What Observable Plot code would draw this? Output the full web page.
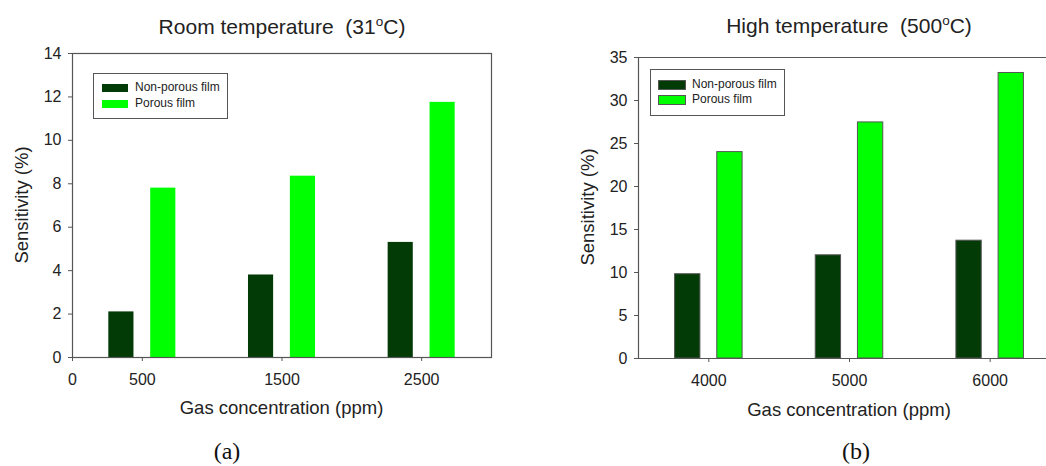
<!DOCTYPE html>
<html>
<head>
<meta charset="utf-8">
<script src="https://cdn.jsdelivr.net/npm/d3@7"></script>
<script src="https://cdn.jsdelivr.net/npm/@observablehq/plot@0.6"></script>
<style>
  html, body { margin: 0; padding: 0; background: #fff; overflow: hidden; }
  #root { position: relative; width: 1046px; height: 466px; overflow: hidden; font-family: "Liberation Sans", Arial, sans-serif; color: #222; }
  .abs { position: absolute; white-space: pre; line-height: 1; }
  .title { font-size: 21px; transform: translate(-50%, -50%); }
  .title sup { font-size: 13.5px; vertical-align: 0; position: relative; top: -8px; }
  .xlab { font-size: 18.5px; transform: translate(-50%, -50%); }
  .ylab { font-size: 18.5px; transform: translate(-50%, -50%) rotate(-90deg); }
  .cap { font-family: "Liberation Serif", "Times New Roman", serif; font-size: 24px; transform: translate(-50%, -50%); color: #111; }
  .legend { position: absolute; border: 1px solid #555; background: #fff; box-sizing: border-box; }
  .legrow { position: absolute; font-size: 12px; line-height: 1; white-space: nowrap; }
  .sw { position: absolute; box-sizing: border-box; }
</style>
</head>
<body>
<div id="root"></div>
<script>
// ---- data ----
const seriesNames = ["Non-porous film", "Porous film"];
const seriesColors = ["#023b06", "#00ff00"];

const concA = [500, 1500, 2500];
const nonPorousA = [2.1, 3.8, 5.3];
const porousA = [7.8, 8.35, 11.75];
const xTicksA = [0, 500, 1500, 2500];
const yTicksA = [0, 2, 4, 6, 8, 10, 12, 14];

const concB = [4000, 5000, 6000];
const nonPorousB = [9.8, 12.0, 13.7];
const porousB = [24.0, 27.45, 33.2];
const xTicksB = [4000, 5000, 6000];
const yTicksB = [0, 5, 10, 15, 20, 25, 30, 35];

// bar placement within a group (in ppm units, relative to the concentration)
const barSpan = {"Non-porous film": [-240, -60], "Porous film": [60, 240]};

function table(conc, a, b) {
  const rows = [];
  conc.forEach((c, i) => {
    rows.push({conc: c, series: seriesNames[0], value: a[i]});
    rows.push({conc: c, series: seriesNames[1], value: b[i]});
  });
  return rows;
}
const dataA = table(concA, nonPorousA, porousA);
const dataB = table(concB, nonPorousB, porousB);

const root = document.getElementById("root");
const axisColor = "#555";

function panel(data, opts) {
  const marks = [
    Plot.rect(data, {
      x1: d => d.conc + barSpan[d.series][0],
      x2: d => d.conc + barSpan[d.series][1],
      y1: () => 0,
      y2: "value",
      fill: "series",
      stroke: opts.barStroke,
      strokeWidth: opts.barStroke ? 1 : 0
    }),
    Plot.axisY({ticks: opts.yTicks, tickSize: 4, tickPadding: 7, label: null, stroke: axisColor, fill: "#222", fontSize: 16}),
    Plot.axisX({ticks: opts.xTicks, tickSize: 4, tickPadding: 12, label: null, stroke: axisColor, fill: "#222", fontSize: 16, tickFormat: d => String(d)})
  ];
  if (opts.fullFrame) {
    marks.push(Plot.frame({stroke: axisColor, strokeWidth: 1.2}));
  } else {
    marks.push(Plot.ruleY([opts.yDomain[1]], {stroke: axisColor, strokeWidth: 1.2}));
    marks.push(Plot.ruleY([opts.yDomain[0]], {stroke: axisColor, strokeWidth: 1.2}));
    marks.push(Plot.ruleX([opts.xDomain[0]], {stroke: axisColor, strokeWidth: 1.2}));
  }
  const svg = Plot.plot({
    width: opts.width,
    height: 466,
    marginTop: opts.marginTop,
    marginBottom: opts.marginBottom,
    marginLeft: opts.marginLeft,
    marginRight: opts.marginRight,
    x: {domain: opts.xDomain},
    y: {domain: opts.yDomain},
    color: {domain: seriesNames, range: seriesColors},
    style: {fontFamily: '"Liberation Sans", Arial, sans-serif', fontSize: "16px", background: "transparent", overflow: "visible"},
    marks
  });
  svg.style.position = "absolute";
  svg.style.left = opts.left + "px";
  svg.style.top = "0px";
  root.appendChild(svg);
}

panel(dataA, {
  left: 0, width: 523, marginTop: 53, marginBottom: 109, marginLeft: 72, marginRight: 32,
  xDomain: [0, 3000], yDomain: [0, 14], xTicks: xTicksA, yTicks: yTicksA, fullFrame: true, barStroke: null
});
panel(dataB, {
  left: 523, width: 557, marginTop: 57, marginBottom: 108, marginLeft: 115, marginRight: 20,
  xDomain: [3500, 6500], yDomain: [0, 35], xTicks: xTicksB, yTicks: yTicksB, fullFrame: false, barStroke: "#555"
});

function addText(cls, html, x, y) {
  const el = document.createElement("div");
  el.className = "abs " + cls;
  el.innerHTML = html;
  el.style.left = x + "px";
  el.style.top = y + "px";
  root.appendChild(el);
}
addText("title", "Room temperature  (31<sup>o</sup>C)", 282, 26);
addText("title", "High temperature  (500<sup>o</sup>C)", 849, 25);
addText("ylab", "Sensitivity (%)", 22, 205);
addText("ylab", "Sensitivity (%)", 588, 207);
addText("xlab", "Gas concentration (ppm)", 281.5, 408);
addText("xlab", "Gas concentration (ppm)", 849, 410);
addText("cap", "(a)", 227, 451);
addText("cap", "(b)", 856, 451);

function legend(x, y, w, h, sw, rowYs, textX, bordered) {
  const box = document.createElement("div");
  box.className = "legend";
  Object.assign(box.style, {left: x + "px", top: y + "px", width: w + "px", height: h + "px"});
  root.appendChild(box);
  seriesNames.forEach((name, i) => {
    const s = document.createElement("div");
    s.className = "sw";
    Object.assign(s.style, {left: sw.x + "px", top: (rowYs[i] - sw.h / 2) + "px", width: sw.w + "px", height: sw.h + "px", background: seriesColors[i], border: bordered ? "1px solid #555" : "none"});
    root.appendChild(s);
    const t = document.createElement("div");
    t.className = "legrow";
    t.textContent = name;
    Object.assign(t.style, {left: textX + "px", top: (rowYs[i] - 7) + "px"});
    root.appendChild(t);
  });
}
legend(93, 73, 135, 46, {x: 102, w: 26, h: 8}, [88, 103.5], 135, false);
legend(650, 69, 135, 47, {x: 658, w: 28, h: 10}, [85, 100], 692, true);
</script>
</body>
</html>
